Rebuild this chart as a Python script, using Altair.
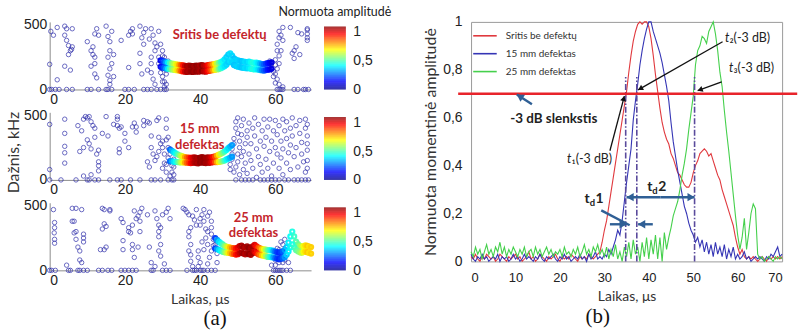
import math
import altair as alt
import pandas as pd

# ---------------- (a) scatter panels ----------------
p1_blue = [
    (0, 0), (0.5, 0), (1.5, 0), (2.5, 0), (0, 195), (0.3, 450), (1, 420), (2, 480), (2, 75),
    (4, 490), (4.5, 470), (4, 420), (4.5, 380), (5, 340), (5.5, 300), (5, 270), (6, 330), (6, 470),
    (4, 180), (4.5, 0), (6, 0), (5.5, 150), (5.8, 310),
    (10, 370), (11, 300), (11.5, 270), (12, 430), (12.5, 470), (11, 180), (12, 200), (12, 120),
    (12.5, 90), (13, 0), (11, 0), (10, 0), (12, 250), (13, 420), (11.5, 330),
    (15, 490), (15.5, 410), (16, 370), (16, 300), (15.5, 250), (16.5, 200), (16, 160), (15.5, 110),
    (16, 70), (16, 40), (15.5, 0), (16.5, 0), (15, 0), (17, 100), (17, 270), (16.5, 450),
    (20, 0), (21, 0), (21, 420), (21.5, 450), (22, 470), (22, 430), (21, 170), (22.5, 0), (19, 380),
    (24, 490), (24.5, 400), (25, 440), (25, 350), (24, 280), (24, 200), (24.5, 120), (25, 0),
    (26.5, 390), (27, 470), (27.5, 420), (28, 360), (28, 300), (27, 250), (27, 200), (27, 130),
    (27.5, 80), (28, 40), (27, 0), (28.5, 0), (26, 150), (29, 250), (29, 200), (29, 450),
    (28.5, 330), (25.5, 470), (26, 0),
    (29.5, 350), (30, 300), (30, 260), (30.5, 220), (30, 180), (29.5, 130), (30, 100), (30, 60),
    (30.5, 20), (29.5, 0), (31, 150), (31, 200), (31.5, 170), (30.5, 250), (29.5, 220), (31, 120),
    (30.5, 60), (31, 40), (30, 160), (31.5, 220), (30.5, 0), (31, 0),
    (58, 180), (58.5, 220), (59, 200), (59, 160), (59.5, 140), (60, 190), (60, 230), (60.5, 300),
    (60.5, 350), (61, 400), (61, 450), (61.5, 420), (61, 260), (60, 120), (60.5, 80), (61, 40),
    (61, 0), (61.5, 0), (62, 0), (62, 480), (62, 380), (61.5, 300), (61, 200), (60.5, 160),
    (60, 50), (62, 20), (60.5, 0), (59.5, 100),
    (64, 480), (64.5, 280), (65, 240), (65, 300), (65.5, 330), (66, 0), (67.5, 0), (68, 0),
    (68.8, 0), (67, 430), (68.5, 470), (68.5, 430), (68.5, 400), (68.5, 380), (68.5, 460),
    (65, 0), (66, 440), (66.5, 270),
]
p1_band_x = [29.5 + 0.5 * i for i in range(60)]
p1_band_amp = [0.12, 0.18, 0.24, 0.32, 0.40, 0.48, 0.55, 0.60, 0.66, 0.72,
               0.80, 0.88, 0.95, 1.02, 1.06, 1.05, 1.07, 1.08, 1.06, 1.08,
               1.07, 1.05, 1.08, 1.04, 1.02, 0.97, 0.92, 0.86, 0.78, 0.70,
               0.62, 0.54, 0.47, 0.42, 0.39, 0.37, 0.36, 0.38, 0.37, 0.35,
               0.36, 0.37, 0.36, 0.35, 0.36, 0.38, 0.37, 0.39, 0.42, 0.45,
               0.44, 0.41, 0.38, 0.33, 0.28, 0.24, 0.20, 0.16, 0.13, 0.10]
p1_band_top = [225, 222, 215, 210, 208, 204, 200, 198, 195, 192,
               190, 188, 186, 182, 180, 185, 183, 180, 182, 185,
               183, 186, 188, 185, 183, 188, 190, 193, 195, 198,
               202, 206, 212, 220, 232, 250, 270, 280, 262, 240,
               230, 226, 222, 220, 216, 214, 212, 215, 210, 207,
               205, 208, 203, 200, 197, 195, 200, 203, 205, 210]
p1_band_bot = [175, 170, 168, 162, 160, 157, 155, 152, 150, 148,
               146, 143, 140, 138, 136, 140, 138, 136, 138, 140,
               138, 141, 143, 140, 138, 142, 145, 148, 150, 152,
               155, 158, 165, 172, 180, 192, 210, 220, 208, 190,
               182, 176, 174, 170, 168, 166, 164, 166, 160, 158,
               155, 157, 153, 150, 148, 146, 150, 153, 155, 160]

p2_blue = [
    (0, 430), (0, 80), (0, 0), (3, 0), (4, 470), (4, 360), (4, 260), (4, 210), (4, 130), (7, 0),
    (7.5, 420), (8, 220), (8.5, 380), (9, 250), (9, 470), (9.5, 490), (10, 480), (10.5, 490),
    (11, 450), (10, 310), (10.5, 280), (11, 240), (11.5, 420), (12, 400), (12, 330), (9, 30),
    (10, 0), (10.5, 0), (11, 40), (12, 0), (12.5, 200), (13, 230), (13, 140), (13, 110), (13, 70),
    (13, 0), (14, 360), (15, 490), (15.5, 340), (16, 0), (17, 430), (18, 490), (18, 470), (18, 420),
    (18.5, 400), (19, 410), (18.5, 210), (18.5, 240), (19, 0), (18, 0), (20, 360), (20, 300),
    (21, 250), (21.5, 0), (22, 410), (22.5, 440), (23, 370), (23, 410), (24, 0), (25, 460),
    (25, 420), (26, 450), (26.5, 440), (27, 340), (27, 250), (27.5, 200), (26, 140), (26.5, 100),
    (27, 0), (28, 0), (28.5, 460), (29, 480), (29, 330), (29.5, 280), (29, 220), (28.5, 180),
    (28, 150), (29.5, 0), (30, 90), (30, 250), (30.5, 130), (31, 400), (31, 470), (31, 310),
    (31.5, 250), (31.5, 170), (31, 120), (31, 60), (31.5, 0), (32, 200), (32, 140), (32.5, 110),
    (32.5, 60), (32, 30), (32.5, 0), (33, 160), (33, 100), (33, 40), (30.5, 200), (30, 300),
    (31.5, 330), (32, 240), (33, 0),
    (48, 80), (48, 120), (48.5, 160), (48.5, 200), (48.5, 240), (49, 280), (49, 320), (49, 60),
    (49.5, 0), (49.5, 100), (49.5, 400), (49.5, 450), (50, 480), (50, 360), (50, 200), (50, 140),
    (50.5, 40), (50.5, 250), (50.5, 300), (51, 420), (51, 350), (51, 180), (51, 0), (51.5, 80),
    (51.5, 220), (51.5, 470), (52, 280), (52, 130), (52, 0), (52.5, 380), (52.5, 330), (52.5, 50),
    (53, 440), (53, 200), (53, 0), (53.5, 150), (53.5, 280), (54, 400), (54, 90), (54, 0),
    (54.5, 340), (54.5, 480), (55, 240), (55, 20), (55.5, 180), (55.5, 430), (56, 300), (56, 120),
    (56, 0), (56.5, 380), (56.5, 60), (57, 470), (57, 260), (57, 0), (57.5, 330), (57.5, 160),
    (58, 410), (58, 90), (58, 0), (58.5, 220), (58.5, 470), (59, 300), (59, 30), (59, 0),
    (59.5, 380), (59.5, 130), (60, 460), (60, 250), (60, 0), (60.5, 200), (60.5, 350), (61, 420),
    (61, 90), (61, 0), (61.5, 300), (61.5, 170), (62, 470), (62, 240), (62, 40), (62.5, 380),
    (62.5, 0), (63, 320), (63, 130), (63, 450), (63.5, 210), (63.5, 0), (64, 400), (64, 270),
    (64, 80), (64.5, 480), (64.5, 340), (65, 180), (65, 0), (65.5, 420), (65.5, 250), (66, 100),
    (66, 0), (66.5, 360), (66.5, 460), (67, 200), (67, 290), (67, 0), (67.5, 140), (68, 400),
    (68, 470), (68, 60), (68, 0), (68.5, 230), (68.5, 340), (68.5, 150), (68.8, 0), (68.5, 280),
    (68.5, 430), (68.5, 90),
]
p2_band_x = [32 + 0.5 * i for i in range(34)]
p2_band_amp = [0.25, 0.32, 0.38, 0.42, 0.48, 0.55, 0.62, 0.70, 0.78, 0.85,
               0.90, 0.96, 1.00, 1.04, 1.06, 1.05, 1.08, 1.07, 1.08, 1.06,
               1.06, 1.04, 1.00, 0.95, 0.88, 0.78, 0.70, 0.62, 0.55, 0.48,
               0.42, 0.38, 0.34, 0.30]
p2_band_top = [235, 225, 215, 205, 198, 190, 185, 180, 176, 173,
               172, 170, 172, 175, 170, 168, 173, 176, 172, 170,
               174, 172, 175, 178, 182, 188, 195, 202, 210, 220,
               232, 245, 258, 270]
p2_band_bot = [145, 145, 141, 139, 138, 136, 135, 136, 134, 133,
               132, 130, 132, 134, 130, 128, 133, 136, 132, 130,
               134, 132, 135, 138, 138, 138, 139, 142, 146, 150,
               158, 165, 172, 180]

p3_blue = [
    (0, 0), (0.5, 0), (1, 470), (1.3, 370), (1.3, 330), (1.2, 290), (1.3, 240), (1.3, 210), (1.5, 0),
    (4.5, 40), (5, 0), (5.5, 0), (6, 480), (6, 380), (6.5, 380), (7, 300), (6.5, 290), (7, 240),
    (7.5, 180), (8, 150), (8, 80), (8.5, 60), (9, 280), (9, 250), (9, 220), (7.5, 0), (8, 0),
    (9, 0), (10, 0), (8.5, 470), (7, 480),
    (13, 0), (14, 0), (14, 480), (14.5, 470), (14.5, 360), (15, 340), (15, 180), (14.5, 160),
    (14, 320), (16, 460), (16, 470), (15.5, 0), (16.5, 0), (13.5, 160),
    (19, 400), (19.5, 370), (19.5, 230), (19.5, 160), (19, 0), (20, 0), (21, 300), (21, 330),
    (21.5, 290), (22, 350), (22, 200), (22, 160), (22.5, 100), (22, 0), (21, 0), (22.5, 460),
    (23, 400), (23.5, 420), (24, 380), (24, 450), (24.5, 480), (24, 300), (23.5, 180), (23, 0),
    (26, 430), (26.5, 180), (27, 60), (27, 0), (27.5, 0), (28, 460), (28.5, 400), (29, 350),
    (29, 300), (29.5, 330), (29, 260), (29.5, 200), (29, 150), (29.5, 110), (30, 0), (30.5, 50),
    (31, 0), (31, 450), (31.5, 480), (32, 400), (32, 0), (28, 30), (30, 430),
    (35.5, 480), (36, 470), (36.5, 450), (37, 430), (37, 300), (37, 260), (37.5, 200), (37, 150),
    (37.5, 120), (37.5, 70), (38, 30), (38, 0), (38.5, 0), (39, 0), (39.5, 100), (39.5, 150),
    (39.5, 30), (40, 60), (40, 0), (40.5, 0), (41, 0), (40, 350), (40, 400), (40.5, 430),
    (41, 470), (41, 380), (41.5, 320), (41.5, 250), (42, 200), (42, 300), (42, 420), (42.5, 450),
    (43, 380), (43, 330), (43, 280), (43.5, 240), (43.5, 190), (44, 200), (44, 250), (44.5, 220),
    (43, 0), (42, 0), (44, 0), (44.5, 130), (44.5, 60), (38, 420), (39, 350), (38.5, 390),
    (41, 160), (42.5, 100), (39, 470), (40.5, 220), (36.5, 0), (37.5, 330), (43, 150), (42, 50),
    (59, 40), (59.5, 0), (60, 0), (60.5, 0), (61, 0), (61.5, 0), (62, 0), (63, 0), (64, 0),
    (60, 80), (60.5, 120), (61, 160), (61.5, 100), (62, 60), (62.5, 80), (63, 120), (62, 200),
    (62.5, 240), (63, 180), (61, 60), (60, 40), (63.5, 60), (62, 140), (61.5, 220), (60.5, 170),
]
p3_band_x = [44 + 0.5 * i for i in range(52)]
p3_band_amp = [0.20, 0.30, 0.38, 0.42, 0.48, 0.55, 0.62, 0.70, 0.76, 0.82,
               0.88, 0.94, 0.98, 1.02, 1.05, 1.07, 1.04, 1.06, 1.08, 1.05,
               1.06, 1.00, 0.95, 0.88, 0.82, 0.74, 0.68, 0.60, 0.52, 0.46,
               0.40, 0.32, 0.25, 0.20, 0.18, 0.20, 0.24, 0.30, 0.36, 0.40,
               0.42, 0.44, 0.47, 0.50, 0.53, 0.57, 0.62, 0.68, 0.72, 0.75,
               0.72, 0.74]
p3_band_top = [250, 235, 222, 210, 200, 190, 183, 180, 176, 172,
               172, 168, 175, 188, 192, 180, 176, 186, 175, 170,
               186, 196, 186, 176, 170, 165, 163, 160, 156, 156,
               154, 150, 145, 140, 135, 140, 146, 158, 180, 215,
               262, 300, 262, 222, 202, 190, 184, 188, 194, 190,
               184, 180]
p3_band_bot = [170, 165, 158, 150, 144, 140, 137, 136, 134, 128,
               128, 122, 125, 132, 138, 130, 124, 134, 125, 120,
               134, 144, 134, 124, 120, 115, 113, 110, 104, 104,
               102, 100, 95, 90, 85, 90, 94, 102, 120, 145,
               178, 200, 178, 158, 148, 140, 136, 142, 146, 140,
               136, 130]

# ---------------- (b) normalised instantaneous amplitude ----------------
series_names = ["Sritis be defektų", "15 mm defektas", "25 mm defektas"]
line_colors = ["#e0393e", "#3535b5", "#45d04c"]
t_us = [0.5 * i for i in range(141)]
amp_clean = [0.02, 0.01, 0.03, 0.01, 0.00, 0.02, 0.01, 0.03, 0.02, 0.01,
             0.02, 0.00, 0.01, 0.03, 0.02, 0.01, 0.00, 0.02, 0.01, 0.02,
             0.03, 0.01, 0.02, 0.00, 0.01, 0.02, 0.04, 0.01, 0.02, 0.00,
             0.01, 0.03, 0.02, 0.01, 0.00, 0.02, 0.01, 0.02, 0.03, 0.01,
             0.00, 0.02, 0.01, 0.02, 0.01, 0.03, 0.02, 0.01, 0.00, 0.02,
             0.01, 0.02, 0.01, 0.03, 0.02, 0.01, 0.02, 0.03, 0.04, 0.08,
             0.13, 0.17, 0.23, 0.29, 0.35, 0.41, 0.47, 0.53, 0.59, 0.65,
             0.71, 0.79, 0.86, 0.92, 0.96, 0.99, 1.00, 0.99, 1.00, 1.00,
             0.98, 0.93, 0.86, 0.78, 0.71, 0.64, 0.58, 0.54, 0.51, 0.49,
             0.45, 0.43, 0.40, 0.37, 0.36, 0.34, 0.32, 0.31, 0.31, 0.33,
             0.37, 0.40, 0.42, 0.45, 0.46, 0.47, 0.46, 0.44, 0.45, 0.42,
             0.39, 0.36, 0.34, 0.30, 0.27, 0.24, 0.21, 0.18, 0.15, 0.10,
             0.06, 0.03, 0.05, 0.02, 0.01, 0.02, 0.01, 0.02, 0.01, 0.00,
             0.01, 0.02, 0.01, 0.00, 0.02, 0.01, 0.02, 0.01, 0.02, 0.01,
             0.02]
amp_15mm = [0.03, 0.01, 0.00, 0.02, 0.01, 0.03, 0.01, 0.02, 0.00, 0.01,
            0.02, 0.01, 0.03, 0.00, 0.02, 0.01, 0.02, 0.00, 0.01, 0.03,
            0.01, 0.02, 0.00, 0.01, 0.03, 0.01, 0.02, 0.01, 0.00, 0.02,
            0.01, 0.03, 0.01, 0.00, 0.02, 0.01, 0.02, 0.03, 0.01, 0.00,
            0.02, 0.01, 0.03, 0.01, 0.02, 0.00, 0.01, 0.02, 0.01, 0.03,
            0.01, 0.02, 0.00, 0.03, 0.01, 0.02, 0.04, 0.01, 0.02, 0.01,
            0.03, 0.02, 0.05, 0.03, 0.06, 0.09, 0.13, 0.11, 0.17, 0.25,
            0.33, 0.40, 0.47, 0.59, 0.67, 0.74, 0.82, 0.88, 0.93, 0.97,
            1.00, 1.00, 0.96, 0.93, 0.90, 0.87, 0.83, 0.78, 0.73, 0.67,
            0.58, 0.50, 0.44, 0.38, 0.33, 0.28, 0.23, 0.20, 0.16, 0.13,
            0.11, 0.08, 0.10, 0.06, 0.09, 0.04, 0.08, 0.03, 0.07, 0.02,
            0.08, 0.03, 0.06, 0.02, 0.07, 0.01, 0.05, 0.02, 0.06, 0.01,
            0.03, 0.01, 0.02, 0.04, 0.01, 0.02, 0.00, 0.01, 0.02, 0.01,
            0.02, 0.01, 0.00, 0.02, 0.01, 0.03, 0.02, 0.04, 0.06, 0.02,
            0.03]
amp_25mm = [0.04, 0.02, 0.06, 0.03, 0.05, 0.01, 0.04, 0.07, 0.03, 0.05,
            0.02, 0.06, 0.04, 0.08, 0.03, 0.06, 0.02, 0.05, 0.03, 0.06,
            0.04, 0.02, 0.05, 0.03, 0.06, 0.02, 0.04, 0.05, 0.02, 0.06,
            0.03, 0.05, 0.02, 0.04, 0.06, 0.03, 0.05, 0.02, 0.04, 0.03,
            0.05, 0.02, 0.06, 0.03, 0.04, 0.02, 0.05, 0.03, 0.06, 0.02,
            0.04, 0.07, 0.03, 0.05, 0.02, 0.06, 0.04, 0.07, 0.03, 0.05,
            0.02, 0.06, 0.01, 0.05, 0.02, 0.07, 0.01, 0.04, 0.00, 0.06,
            0.02, 0.08, 0.01, 0.09, 0.03, 0.06, 0.00, 0.08, 0.02, 0.10,
            0.01, 0.09, 0.03, 0.11, 0.01, 0.10, 0.00, 0.12, 0.05, 0.10,
            0.14, 0.19, 0.22, 0.25, 0.30, 0.36, 0.41, 0.47, 0.55, 0.62,
            0.69, 0.82, 0.88, 0.90, 0.94, 0.93, 0.91, 0.96, 0.98, 1.00,
            0.95, 0.88, 0.79, 0.73, 0.63, 0.54, 0.46, 0.37, 0.28, 0.19,
            0.11, 0.05, 0.10, 0.18, 0.05, 0.12, 0.20, 0.24, 0.22, 0.03,
            0.01, 0.02, 0.00, 0.01, 0.02, 0.01, 0.00, 0.02, 0.01, 0.02,
            0.01]
threshold = 0.7
t_marks = [34.8, 37.3, 50.3]          # t1, t2, t3 at -3 dB

# ---------------- styling ----------------
TXT = "Lato"
NUM = "Liberation Sans"
JET_DOMAIN = [0, 0.1375, 0.4125, 0.6875, 0.9625, 1.1]
JET_RANGE = ["#00008f", "#0000ff", "#00ffff", "#ffff00", "#ff0000", "#800000"]
COMMA = "replace(format(datum.value, '~g'), '.', ',')"
LW, LH = 263, 68
L_XDOM = [0, 69.5]
L_YDOM = [0, 523]
RW, RH = 313, 241
SX, SY = RW / 70.0, RH / 1.0


def jet():
    return alt.Scale(domain=JET_DOMAIN, range=JET_RANGE, interpolate="rgb")


def scatter_panel(blue, bx, btop, bbot, bamp, label, lx, ly, ytitle=False, xtitle=False, sub=None):
    blue_df = pd.DataFrame(blue, columns=["t", "f"])
    band_df = pd.DataFrame({"t": bx + bx, "f": btop + bbot, "a": bamp + bamp})
    lab_df = pd.DataFrame({"t": [lx], "f": [ly], "txt": [label]})
    xs = alt.Scale(domain=L_XDOM, nice=False, zero=False)
    ys = alt.Scale(domain=L_YDOM, nice=False)
    xax = dict(values=[0, 20, 40, 60], grid=False, ticks=False, domainColor="#8c8c8c",
               labelFont=NUM, labelFontSize=14, labelColor="#222", labelPadding=3, title=None)
    if xtitle:
        xax.update(title="Laikas, μs", titleFont=TXT, titleFontSize=14, titleFontWeight="normal",
                   titleColor="#333", titlePadding=5, titleX=151)
    yax = dict(values=[0, 500], grid=False, ticks=False, domainColor="#8c8c8c",
               labelFont=NUM, labelFontSize=14, labelColor="#222", labelPadding=3, title=None)
    if ytitle:
        yax.update(title="Dažnis, kHz", titleFont=TXT, titleFontSize=16, titleFontWeight="normal",
                   titleColor="#333", titlePadding=2, titleY=40)
    pts = alt.Chart(blue_df).mark_point(shape="circle", filled=False, size=20, strokeWidth=1,
                                        color="#2a2aa8", opacity=0.7).encode(
        x=alt.X("t:Q", scale=xs, axis=alt.Axis(**xax)),
        y=alt.Y("f:Q", scale=ys, axis=alt.Axis(**yax)),
    )
    band = alt.Chart(band_df).mark_point(shape="circle", filled=False, size=17, strokeWidth=2.2,
                                         opacity=0.95).encode(
        x=alt.X("t:Q", scale=xs),
        y=alt.Y("f:Q", scale=ys),
        color=alt.Color("a:Q", scale=jet(), legend=None),
    )
    txt = alt.Chart(lab_df).mark_text(font=TXT, fontWeight="bold", fontSize=13, color="#c4252b",
                                      lineBreak="\n", lineHeight=16, align="center",
                                      baseline="middle").encode(
        x=alt.X("t:Q", scale=xs),
        y=alt.Y("f:Q", scale=ys),
        text="txt:N",
    )
    props = dict(width=LW, height=LH)
    if sub:
        props["title"] = alt.TitleParams(sub, orient="bottom", font="Liberation Serif", fontSize=21,
                                         fontWeight="normal", color="#111", offset=2, dx=35)
    return alt.layer(pts, band, txt).properties(**props)


def colorbar(title=None):
    lo = [0.01 * i for i in range(109)]
    df = pd.DataFrame({"lo": lo, "hi": [v + 0.011 for v in lo]})
    ch = alt.Chart(df).mark_rect().encode(
        x=alt.value(0), x2=alt.value(22),
        y=alt.Y("lo:Q", scale=alt.Scale(domain=[0, 1.172], nice=False),
                axis=alt.Axis(orient="right", values=[0, 0.5, 1], labelExpr=COMMA, domain=False,
                              ticks=False, grid=False, labelFont=NUM, labelFontSize=14,
                              labelColor="#222", labelPadding=7, title=None)),
        y2="hi:Q",
        color=alt.Color("lo:Q", scale=jet(), legend=None),
    )
    props = dict(width=22, height=LH)
    if title:
        props["title"] = alt.TitleParams(title, font=TXT, fontSize=12.5, fontWeight="normal",
                                         color="#222", anchor="middle", offset=3)
    return ch.properties(**props)


row1 = alt.hconcat(
    scatter_panel(p1_blue, p1_band_x, p1_band_top, p1_band_bot, p1_band_amp,
                  "Sritis be defektų", 45.2, 423),
    colorbar("Normuota amplitudė"), spacing=13, bounds="flush")
row2 = alt.hconcat(
    scatter_panel(p2_blue, p2_band_x, p2_band_top, p2_band_bot, p2_band_amp,
                  "15 mm\ndefektas", 39.9, 396, ytitle=True),
    colorbar(), spacing=13, bounds="flush")
row3 = alt.hconcat(
    scatter_panel(p3_blue, p3_band_x, p3_band_top, p3_band_bot, p3_band_amp,
                  "25 mm\ndefektas", 54.2, 408, xtitle=True, sub="(a)"),
    colorbar(), spacing=13, bounds="flush")
left = alt.vconcat(row1, row2, row3, spacing=1)

# ---- right chart ----
XR = alt.Scale(domain=[0, 70], nice=False, zero=False)
YR = alt.Scale(domain=[0, 1], nice=False)

lines_df = pd.DataFrame({
    "t": t_us * 3,
    "v": amp_clean + amp_15mm + amp_25mm,
    "s": [series_names[0]] * len(t_us) + [series_names[1]] * len(t_us) + [series_names[2]] * len(t_us),
})
lines = alt.Chart(lines_df).mark_line(strokeWidth=1.1).encode(
    x=alt.X("t:Q", scale=XR, axis=alt.Axis(values=list(range(0, 71, 10)), grid=False, ticks=False,
                                           domain=False, labelFont=NUM, labelFontSize=13,
                                           labelColor="#222", labelPadding=10,
                                           title="Laikas, μs", titleFont=TXT, titleFontSize=14,
                                           titleFontWeight="normal", titleColor="#333",
                                           titlePadding=5)),
    y=alt.Y("v:Q", scale=YR, axis=alt.Axis(values=[0, 0.2, 0.4, 0.6, 0.8, 1], labelExpr=COMMA,
                                           grid=False, ticks=False, domain=False, labelFont=NUM,
                                           labelFontSize=14, labelColor="#222", labelPadding=9,
                                           title="Normuota momentinė amplitudė", titleFont=TXT,
                                           titleFontSize=16, titleFontWeight="normal",
                                           titleColor="#333", titlePadding=4)),
    color=alt.Color("s:N", scale=alt.Scale(domain=series_names, range=line_colors),
                    legend=alt.Legend(title=None, orient="top-left", offset=1, symbolType="stroke",
                                      symbolSize=560, symbolStrokeWidth=1.6, labelFont=TXT,
                                      labelFontSize=10, labelColor="#333", rowPadding=-2,
                                      labelOffset=8, padding=0)),
    detail="s:N",
)

thr_df = pd.DataFrame({"t": [-2.9], "t2": [73.4], "v": [threshold]})
thr = alt.Chart(thr_df).mark_rule(color="#e8242b", strokeWidth=2.6).encode(
    x=alt.X("t:Q", scale=XR), x2="t2:Q", y=alt.Y("v:Q", scale=YR))

vl_df = pd.DataFrame({"t": t_marks, "v": [0, 0, 0], "v2": [0.77, 0.77, 0.77]})
vlines = alt.Chart(vl_df).mark_rule(color="#5a4a9c", strokeWidth=1.6, strokeDash=[6, 2, 1.5, 2]).encode(
    x=alt.X("t:Q", scale=XR), y=alt.Y("v:Q", scale=YR), y2="v2:Q")


def arrow_layers(specs, color, width, head_size, with_heads=True):
    shafts, heads = [], []
    for (x1, y1, x2, y2) in specs:
        shafts.append({"t": x1, "v": y1, "t2": x2, "v2": y2})
        dxs, dys = (x2 - x1) * SX, -(y2 - y1) * SY
        ln = math.hypot(dxs, dys)
        ux, uy = dxs / ln, dys / ln
        back = 0.42 * math.sqrt(head_size)
        heads.append({"t": x2 - ux * back / SX, "v": y2 + uy * back / SY,
                      "ang": math.degrees(math.atan2(dxs, -dys)) % 360})
    sh = alt.Chart(pd.DataFrame(shafts)).mark_rule(color=color, strokeWidth=width).encode(
        x=alt.X("t:Q", scale=XR), y=alt.Y("v:Q", scale=YR), x2="t2:Q", y2="v2:Q")
    out = [sh]
    if with_heads:
        hd = alt.Chart(pd.DataFrame(heads)).mark_point(shape="triangle-up", filled=True, color=color,
                                                       opacity=1, size=head_size).encode(
            x=alt.X("t:Q", scale=XR), y=alt.Y("v:Q", scale=YR),
            angle=alt.Angle("ang:Q", scale=None))
        out.append(hd)
    return out


black_arrows = [(56.6, 0.917, 37.6, 0.716), (56.4, 0.75, 51.0, 0.713), (31.25, 0.462, 34.5, 0.69)]
blue_arrows = [(13.7, 0.656, 10.3, 0.697),
               (42.6, 0.268, 35.0, 0.268), (42.6, 0.268, 50.3, 0.268),
               (31.25, 0.155, 35.0, 0.155), (40.9, 0.155, 37.6, 0.155)]
blue_pointer = [(29.3, 0.213, 35.7, 0.151)]
ARROW_BLUE = "#2f5f95"

ann_layers = []
ann_layers += arrow_layers(black_arrows, "#111", 1.3, 36)
ann_layers += arrow_layers(blue_arrows, ARROW_BLUE, 2.4, 70)
ann_layers += arrow_layers(blue_pointer, ARROW_BLUE, 2.4, 70, with_heads=False)


def text_layer(rows, **style):
    df = pd.DataFrame(rows, columns=["t", "v", "txt"])
    return alt.Chart(df).mark_text(**style).encode(
        x=alt.X("t:Q", scale=XR), y=alt.Y("v:Q", scale=YR), text="txt:N")


ann_layers += [
    text_layer([(58.15, 0.934, "t"), (59.05, 0.809, "t"), (22.6, 0.427, "t")],
               font=TXT, fontStyle="italic", fontSize=12.5, color="#222", align="right", baseline="middle"),
    text_layer([(58.15, 0.934, "₂(-3 dB)"), (59.05, 0.809, "₃(-3 dB)"), (22.6, 0.427, "₁(-3 dB)")],
               font=TXT, fontSize=12.5, color="#222", align="left", baseline="middle"),
    text_layer([(18.6, 0.593, "-3 dB slenkstis")],
               font=TXT, fontWeight="bold", fontSize=13.5, color="#222", align="center", baseline="middle"),
    text_layer([(40.8, 0.311, "t"), (26.7, 0.261, "t")],
               font=TXT, fontWeight="bold", fontSize=14, color="#222", align="right", baseline="middle"),
    text_layer([(40.8, 0.311, "d"), (26.7, 0.261, "d")],
               font=TXT, fontWeight="bold", fontSize=9.5, color="#222", align="left", baseline="middle", dy=4),
    text_layer([(42.1, 0.311, "2"), (28.0, 0.261, "1")],
               font=TXT, fontWeight="bold", fontSize=14, color="#222", align="left", baseline="middle"),
]

right_plot = alt.layer(lines, vlines, thr, *ann_layers).properties(
    width=RW, height=RH,
    view=alt.ViewBackground(stroke="#9a9a9a", strokeWidth=1),
    title=alt.TitleParams("(b)", orient="bottom", font="Liberation Serif", fontSize=21,
                          fontWeight="normal", color="#111", offset=3, dx=-29),
)
# invisible spacer title keeps the top edges of (a) and (b) in step
right = alt.vconcat(right_plot, title=alt.TitleParams("\u00a0", fontSize=2, offset=8, anchor="start"))

chart = alt.hconcat(left, right, spacing=31).resolve_scale(
    color="independent"
).properties(
    padding={"left": 5, "top": 3, "right": 0, "bottom": 0},
    background="white",
).configure_view(strokeWidth=0)

chart.save("out.html", embed_options={"renderer": "svg", "actions": False})
